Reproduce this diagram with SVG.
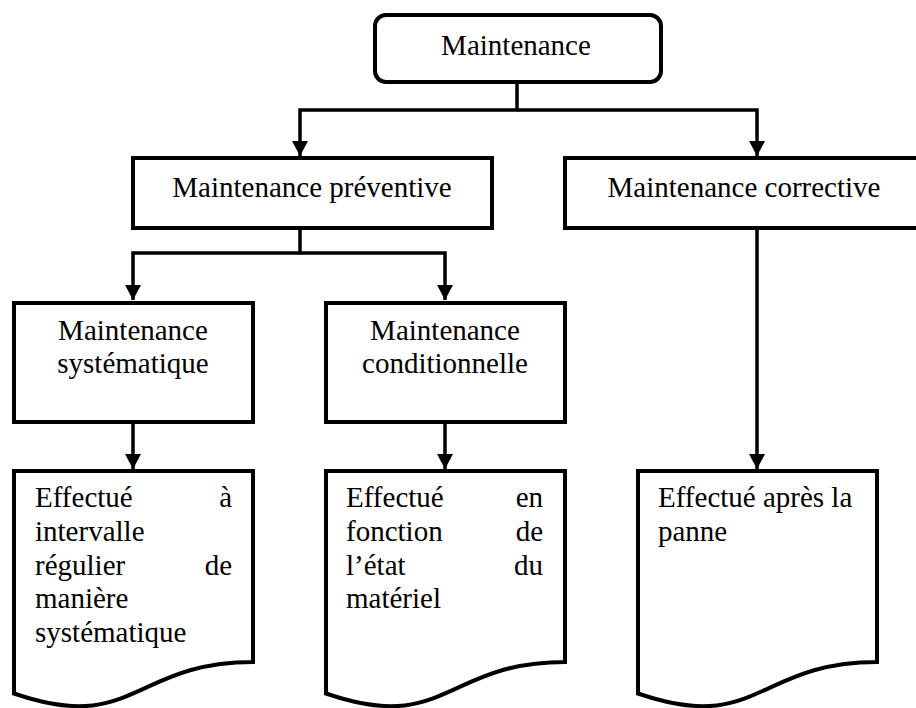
<svg xmlns="http://www.w3.org/2000/svg" width="916" height="708" viewBox="0 0 916 708">
<style>
.box{fill:#fff;stroke:#000;stroke-width:4}
.ln{fill:none;stroke:#000;stroke-width:3.5}
.t{font-size:29px;fill:#000}
.c{text-anchor:middle}
.r{text-anchor:end}
</style>
<defs>
<marker id="ah" markerUnits="userSpaceOnUse" markerWidth="16" markerHeight="16" viewBox="0 0 16 16" refX="15" refY="8" orient="auto">
<path d="M0,0 L15,8 L0,16 Z" fill="#000"/>
</marker>
</defs>
<rect width="916" height="708" fill="#fff"/>
<g id="connectors">
<path class="ln" d="M517,82 V110 H300 V156" marker-end="url(#ah)"/>
<path class="ln" d="M517,110 H757 V156" marker-end="url(#ah)"/>
<path class="ln" d="M300,229 V253 H133 V300" marker-end="url(#ah)"/>
<path class="ln" d="M300,253 H445 V300" marker-end="url(#ah)"/>
<path class="ln" d="M133,423 V469" marker-end="url(#ah)"/>
<path class="ln" d="M445,423 V469" marker-end="url(#ah)"/>
<path class="ln" d="M757,229 V469" marker-end="url(#ah)"/>
</g>
<g class="t" font-family="Liberation Serif, Tinos, Times New Roman, DejaVu Serif, serif">
<g id="maintenance">
<rect class="box" x="375" y="15" width="286" height="67" rx="11"/>
<text class="c" x="516" y="55">Maintenance</text>
</g>
<g id="preventive">
<rect class="box" x="133" y="158" width="359" height="70"/>
<text class="c" x="312" y="197">Maintenance préventive</text>
</g>
<g id="corrective">
<rect class="box" x="565" y="158" width="360" height="70"/>
<text class="c" x="744" y="197">Maintenance corrective</text>
</g>
<g id="systematique">
<rect class="box" x="14" y="303" width="239" height="119"/>
<text class="c" x="133" y="340">Maintenance</text>
<text class="c" x="133" y="373">systématique</text>
</g>
<g id="conditionnelle">
<rect class="box" x="326" y="303" width="239" height="119"/>
<text class="c" x="445" y="340">Maintenance</text>
<text class="c" x="445" y="373">conditionnelle</text>
</g>
<g id="doc-systematique">
<path class="box" d="M14,471 H253 V662 C133.5,662 133.5,735 14,693.5 Z"/>
<text x="35" y="507">Effectué</text><text class="r" x="232" y="507">à</text>
<text x="35" y="541">intervalle</text>
<text x="35" y="575">régulier</text><text class="r" x="232" y="575">de</text>
<text x="35" y="608">manière</text>
<text x="35" y="642">systématique</text>
</g>
<g id="doc-conditionnelle">
<path class="box" d="M326,471 H565 V662 C445.5,662 445.5,735 326,693.5 Z"/>
<text x="346" y="507">Effectué</text><text class="r" x="543" y="507">en</text>
<text x="346" y="541">fonction</text><text class="r" x="543" y="541">de</text>
<text x="346" y="575">l’état</text><text class="r" x="543" y="575">du</text>
<text x="346" y="608">matériel</text>
</g>
<g id="doc-corrective">
<path class="box" d="M638,471 H877 V662 C757.5,662 757.5,735 638,693.5 Z"/>
<text x="658" y="507">Effectué après la</text>
<text x="658" y="541">panne</text>
</g>
</g>
</svg>
